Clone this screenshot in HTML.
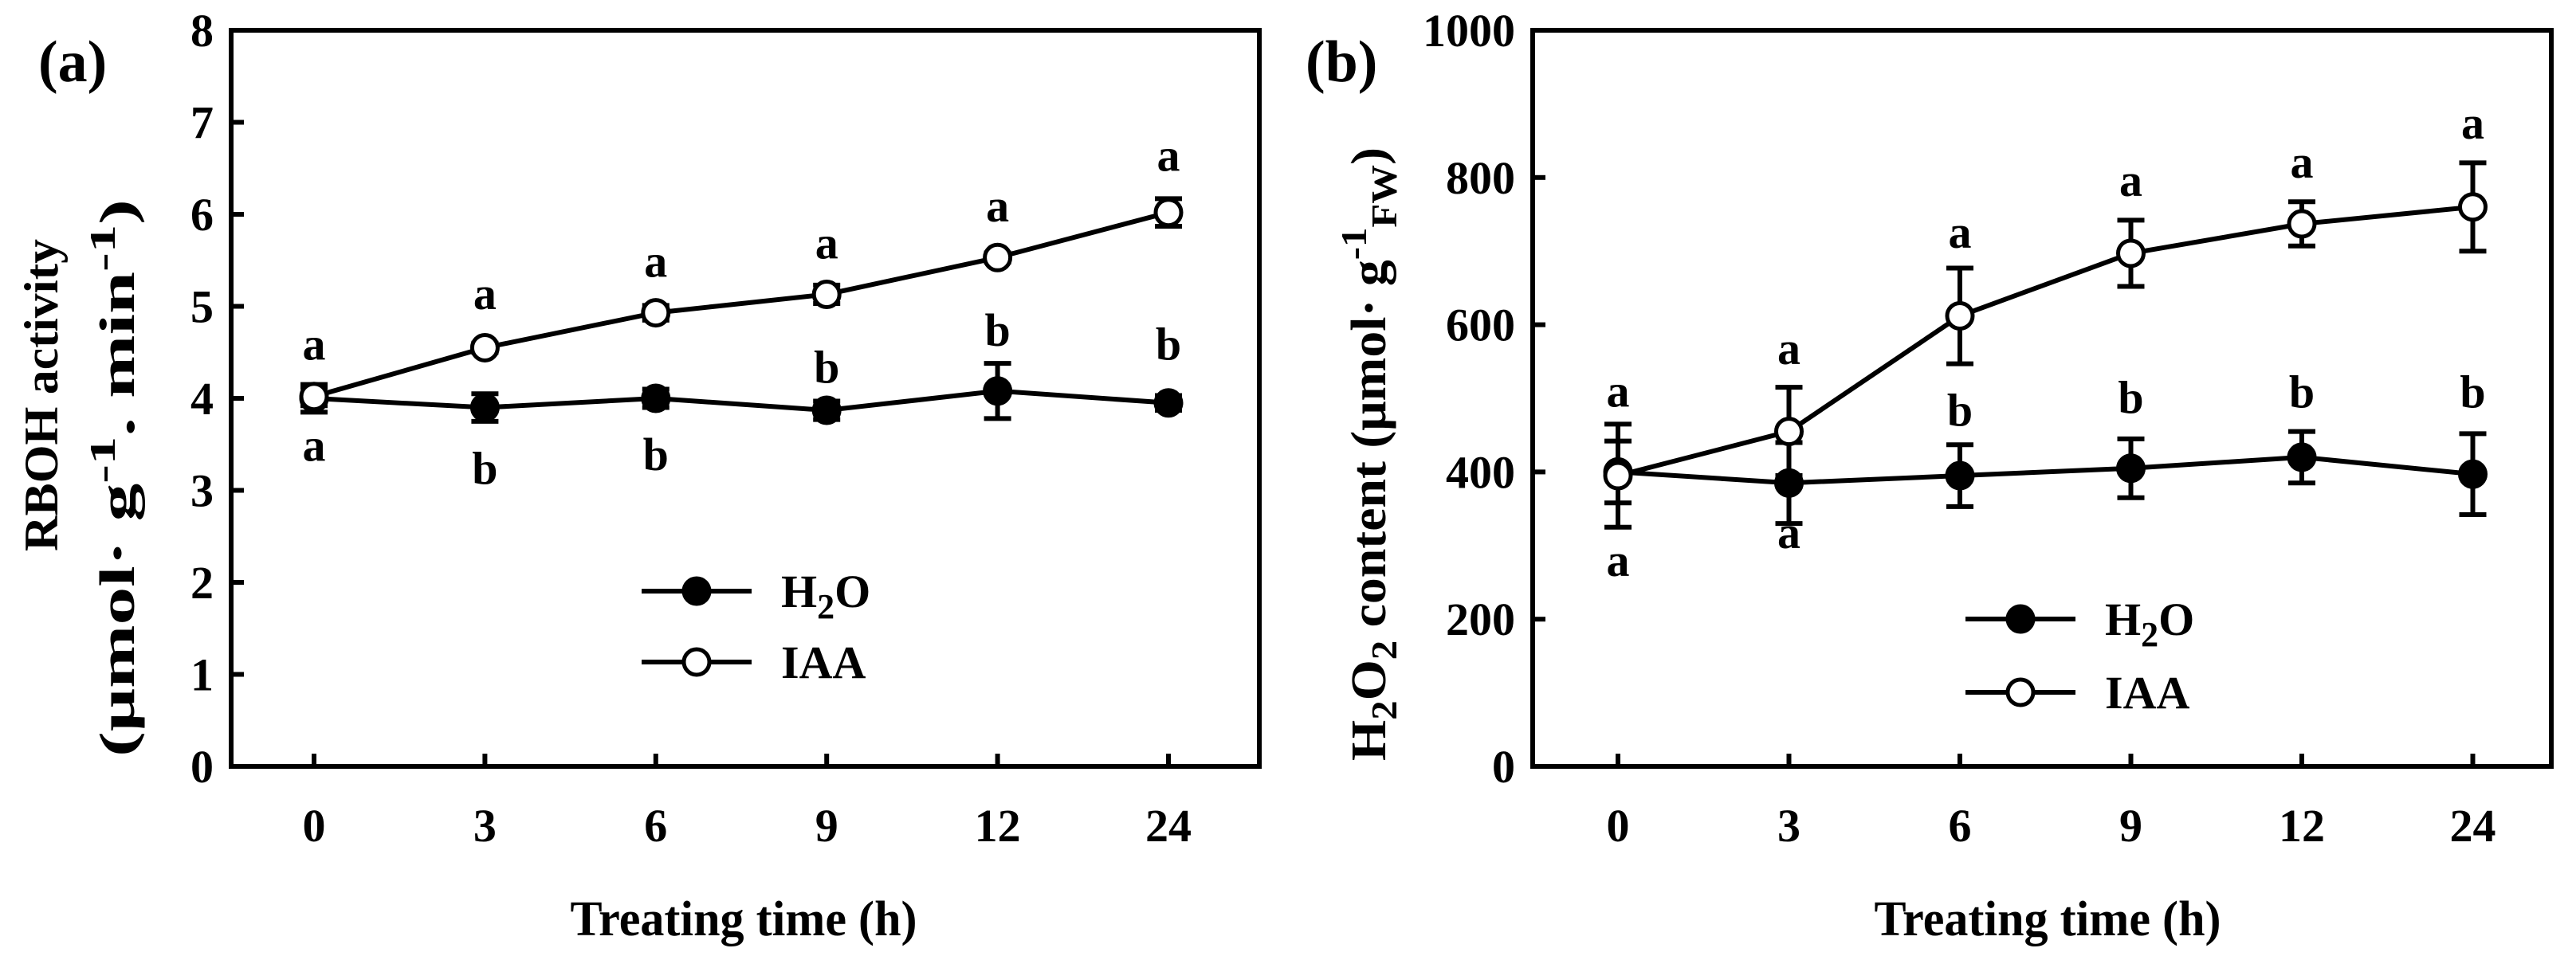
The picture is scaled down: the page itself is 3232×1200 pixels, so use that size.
<!DOCTYPE html>
<html><head><meta charset="utf-8"><style>
html,body{margin:0;padding:0;background:#fff;}
svg{display:block;}
text{font-family:"Liberation Serif",serif;font-weight:bold;fill:#000;}
</style></head><body>
<svg id="fig" width="3232" height="1200" viewBox="0 0 3232 1200" xmlns="http://www.w3.org/2000/svg">
<text x="48" y="102" font-size="74">(a)</text>
<text x="1638" y="102" font-size="74">(b)</text>
<text transform="translate(72,496) rotate(-90)" text-anchor="middle" font-size="60" textLength="392" lengthAdjust="spacingAndGlyphs">RBOH activity</text>
<text transform="translate(168,600) rotate(-90)" text-anchor="middle" font-size="62" textLength="700" lengthAdjust="spacingAndGlyphs">(μmol·  g<tspan dy="-24" font-size="46">-1</tspan><tspan dy="24">.  min</tspan><tspan dy="-24" font-size="46">-1</tspan><tspan dy="24">)</tspan></text>
<text transform="translate(1738,570) rotate(-90)" text-anchor="middle" font-size="62" textLength="770" lengthAdjust="spacingAndGlyphs">H<tspan dy="14" font-size="46">2</tspan><tspan dy="-14">O</tspan><tspan dy="14" font-size="46">2</tspan><tspan dy="-14"> content (μmol· g</tspan><tspan dy="-24" font-size="46">-1</tspan><tspan dy="38" font-size="46">FW</tspan><tspan dy="-14">)</tspan></text>
<text x="933" y="1174" text-anchor="middle" font-size="62" textLength="435" lengthAdjust="spacingAndGlyphs">Treating time (h)</text>
<text x="2569" y="1174" text-anchor="middle" font-size="62" textLength="435" lengthAdjust="spacingAndGlyphs">Treating time (h)</text>
</svg>
<script>
const categories = ["0","3","6","9","12","24"];
const aH2O = [4.0,3.9,4.0,3.87,4.08,3.95];
const aH2OErr = [0.15,0.15,0.1,0.1,0.3,0.08];
const aIAA = [4.02,4.55,4.93,5.13,5.53,6.02];
const aIAAErr = [0.1,0.05,0.08,0.1,0.05,0.15];
const aIAALetters = ["a","a","a","a","a","a"];
const aIAALetterY = [4.55,5.1,5.45,5.65,6.05,6.6];
const aH2OLetters = ["a","b","b","b","b","b"];
const aH2OLetterY = [3.45,3.2,3.35,4.3,4.7,4.55];
const aTicks = [0,1,2,3,4,5,6,7,8];
const bH2O = [400,385,395,405,420,397];
const bH2OErr = [42,55,42,40,35,55];
const bIAA = [395,455,612,697,737,760];
const bIAAErr = [70,60,65,45,30,60];
const bIAALetters = ["a","a","a","a","a","a"];
const bIAALetterY = [505,563,721,791,816,869];
const bH2OLetters = ["a","a","b","b","b","b"];
const bH2OLetterY = [275,313,479,496,504,504];
const bTicks = [0,200,400,600,800,1000];

const NS="http://www.w3.org/2000/svg";
const svg=document.getElementById('fig');
function mk(tag,attrs,parent){const e=document.createElementNS(NS,tag);for(const k in attrs)e.setAttribute(k,attrs[k]);(parent||svg).appendChild(e);return e;}

function panel(p){
  const g=mk('g',{});
  
  
  const y=v=>p.bottom-(v-p.ymin)/(p.ymax-p.ymin)*(p.bottom-p.top);
  const x=i=>p.x0+i*p.dx;
  const box=mk('rect',{x:p.left,y:p.top,width:p.right-p.left,height:p.bottom-p.top,fill:'none',stroke:'#000','stroke-width':6},g);
  
  
  p.ticks.forEach(t=>{
    mk('line',{x1:p.left,x2:p.left+16,y1:y(t),y2:y(t),stroke:'#000','stroke-width':6},g);
    const tl=mk('text',{x:p.left-22,y:y(t)+20,'text-anchor':'end','font-size':58},g);
    tl.textContent=t;
    
    
  });
  categories.forEach((c,i)=>{
    mk('line',{x1:x(i),x2:x(i),y1:p.bottom,y2:p.bottom-16,stroke:'#000','stroke-width':6},g);
    const tl=mk('text',{x:x(i),y:1056,'text-anchor':'middle','font-size':58},g);
    tl.textContent=c;
    
    
  });
  function series(vals,errs,fill,name){
    const pts=vals.map((v,i)=>x(i)+','+y(v)).join(' ');
    const l=mk('polyline',{points:pts,fill:'none',stroke:'#000','stroke-width':6},g);
    
    
    vals.forEach((v,i)=>{
      const t=y(v+errs[i]),b=y(v-errs[i]),cx=x(i);
      mk('line',{x1:cx,x2:cx,y1:t,y2:b,stroke:'#000','stroke-width':6},g);
      mk('line',{x1:cx-17,x2:cx+17,y1:t,y2:t,stroke:'#000','stroke-width':6},g);
      mk('line',{x1:cx-17,x2:cx+17,y1:b,y2:b,stroke:'#000','stroke-width':6},g);
    });
    vals.forEach((v,i)=>{
      const m=mk('circle',{cx:x(i),cy:y(v),r:16,fill:fill,stroke:'#000','stroke-width':5},g);
      
      
    });
  }
  series(p.h2o,p.h2oErr,'#000','h2o');
  series(p.iaa,p.iaaErr,'#fff','iaa');
  function letters(ls,ys,name){
    ls.forEach((s,i)=>{
      const t=mk('text',{x:x(i),y:y(ys[i])+15,'text-anchor':'middle','font-size':58},g);
      t.textContent=s;
      
      
    });
  }
  letters(p.iaaL,p.iaaLY,'iaa');
  letters(p.h2oL,p.h2oLY,'h2o');
  const lg=mk('g',{},g);
  
  
  [[p.legY1,'#000','H2O'],[p.legY2,'#fff','IAA']].forEach(([ly,f,lab])=>{
    mk('line',{x1:p.legX,x2:p.legX+138,y1:ly,y2:ly,stroke:'#000','stroke-width':6},lg);
    mk('circle',{cx:p.legX+69,cy:ly,r:16,fill:f,stroke:'#000','stroke-width':5},lg);
    const t=mk('text',{x:p.legX+175,y:ly+20,'font-size':58},lg);
    if(lab==='H2O'){t.innerHTML='H<tspan dy="14" font-size="44">2</tspan><tspan dy="-14">O</tspan>';}
    else t.textContent=lab;
    
    
  });
}
panel({id:'panel-a',left:290,right:1580,top:38,bottom:962,ymin:0,ymax:8,ticks:aTicks,x0:394,dx:214.4,
  h2o:aH2O,h2oErr:aH2OErr,iaa:aIAA,iaaErr:aIAAErr,iaaL:aIAALetters,iaaLY:aIAALetterY,h2oL:aH2OLetters,h2oLY:aH2OLetterY,
  legX:805,legY1:742,legY2:831});
panel({id:'panel-b',left:1923,right:3201,top:38,bottom:962,ymin:0,ymax:1000,ticks:bTicks,x0:2030,dx:214.5,
  h2o:bH2O,h2oErr:bH2OErr,iaa:bIAA,iaaErr:bIAAErr,iaaL:bIAALetters,iaaLY:bIAALetterY,h2oL:bH2OLetters,h2oLY:bH2OLetterY,
  legX:2466,legY1:777,legY2:869});
</script>
</body></html>
